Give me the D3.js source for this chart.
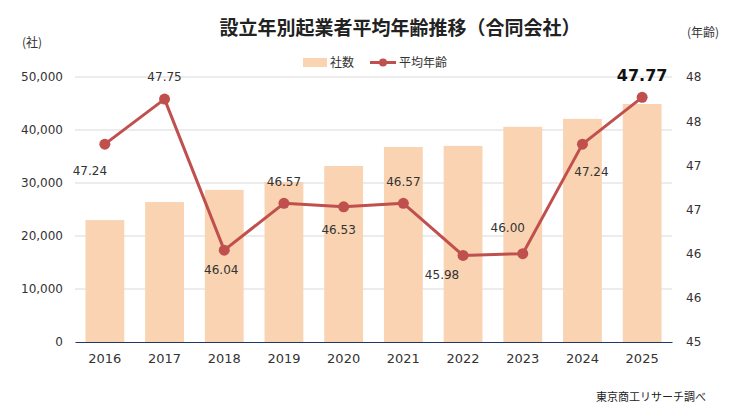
<!DOCTYPE html>
<html><head><meta charset="utf-8">
<script src="https://cdn.jsdelivr.net/npm/d3@7"></script>
<style>
body{margin:0;background:#fff;}
text{font-family:"DejaVu Sans","Noto Sans CJK JP",sans-serif;}
.jp{font-family:"Noto Sans CJK JP",sans-serif;}
</style></head><body>
<svg id="c" width="749" height="410"></svg>
<script>
const years = ["2016","2017","2018","2019","2020","2021","2022","2023","2024","2025"];
const companies = [23000, 26400, 28700, 30200, 33200, 36800, 37000, 40600, 42100, 44900];
const avgAge = [47.24, 47.75, 46.04, 46.57, 46.53, 46.57, 45.98, 46.00, 47.24, 47.77];
const leftTicks = [0, 10000, 20000, 30000, 40000, 50000];
const rightTicks = [45, 45.5, 46, 46.5, 47, 47.5, 48];
// label offsets relative to points [dx, dy]
const labelOffsets = [[-15,27],[0,-22],[-3,20],[0,-22],[-5,23],[0,-22],[-21,19],[-15,-26],[9,28],[0,-22]];

const svg = d3.select("#c");
const m = {l:75, r:672, t:77, b:342};
const x = d3.scaleBand().domain(years).range([m.l, m.r]).paddingInner(0.35).paddingOuter(0.175);
const xc = d => x(d) + x.bandwidth()/2;
const yL = d3.scaleLinear().domain([0, 50000]).range([m.b, m.t]);
const yR = d3.scaleLinear().domain([45, 48]).range([m.b, m.t]);

// title
svg.append("text").attr("class","jp").attr("x", 400).attr("y", 35).attr("text-anchor","middle")
  .attr("font-size", 19).attr("font-weight","bold").attr("fill","#222").text("設立年別起業者平均年齢推移（合同会社）");
svg.append("text").attr("class","jp").attr("x", 32).attr("y", 47).attr("text-anchor","middle")
  .attr("font-size", 12).attr("fill","#333").text("(社)");
svg.append("text").attr("class","jp").attr("x", 703).attr("y", 37).attr("text-anchor","middle")
  .attr("font-size", 12).attr("fill","#333").text("(年齢)");

// legend
const lg = svg.append("g");
lg.append("rect").attr("x", 303).attr("y", 58).attr("width", 24).attr("height", 9).attr("fill", "#F9D3B2");
lg.append("text").attr("class","jp").attr("x", 330).attr("y", 67).attr("font-size", 12).attr("fill","#333").text("社数");
lg.append("line").attr("x1", 370).attr("x2", 396).attr("y1", 62.5).attr("y2", 62.5).attr("stroke", "#C0504D").attr("stroke-width", 3);
lg.append("circle").attr("cx", 383).attr("cy", 62.5).attr("r", 4).attr("fill", "#C0504D");
lg.append("text").attr("class","jp").attr("x", 399).attr("y", 67).attr("font-size", 12).attr("fill","#333").text("平均年齢");

// gridlines
svg.append("g").selectAll("line").data(leftTicks.filter(d=>d>0)).join("line")
  .attr("x1", m.l).attr("x2", m.r).attr("y1", d=>yL(d)).attr("y2", d=>yL(d))
  .attr("stroke", "#D9D9D9").attr("stroke-width", 1);

// left axis
const la = svg.append("g").attr("transform", `translate(${m.l},0)`)
  .call(d3.axisLeft(yL).tickValues(leftTicks).tickFormat(d3.format(",")).tickSize(0).tickPadding(12));
la.select(".domain").remove();
la.selectAll("text").attr("font-size", 12).attr("fill", "#333").attr("font-family","DejaVu Sans");

// right axis
const ra = svg.append("g").attr("transform", `translate(${m.r},0)`)
  .call(d3.axisRight(yR).tickValues(rightTicks).tickFormat(d => Math.round(d + 1e-9).toString()).tickSize(0).tickPadding(14));
ra.select(".domain").remove();
ra.selectAll("text").attr("font-size", 12).attr("fill", "#333").attr("font-family","DejaVu Sans");

// bars
svg.append("g").selectAll("rect").data(years).join("rect")
  .attr("x", d => x(d)).attr("width", x.bandwidth())
  .attr("y", (d,i) => yL(companies[i])).attr("height", (d,i) => yL(0) - yL(companies[i]))
  .attr("fill", "#F9D3B2");

// x axis
const xa = svg.append("g").attr("transform", `translate(0,${m.b})`)
  .call(d3.axisBottom(x).tickSize(0).tickPadding(12));
xa.select(".domain").attr("stroke", "#1F3864").attr("stroke-width", 1.2);
xa.selectAll("text").attr("font-size", 13).attr("fill", "#333").attr("font-family","DejaVu Sans");

// line
const line = d3.line().x((d,i) => xc(years[i])).y(d => yR(d));
svg.append("path").datum(avgAge).attr("d", line).attr("fill","none")
  .attr("stroke", "#C0504D").attr("stroke-width", 3).attr("stroke-linejoin","round");
svg.append("g").selectAll("circle").data(avgAge).join("circle")
  .attr("cx", (d,i) => xc(years[i])).attr("cy", d => yR(d)).attr("r", 5.5).attr("fill", "#C0504D");

// labels
svg.append("g").selectAll("text").data(avgAge).join("text")
  .attr("x", (d,i) => xc(years[i]) + labelOffsets[i][0])
  .attr("y", (d,i) => yR(d) + labelOffsets[i][1])
  .attr("dy", "0.35em").attr("text-anchor","middle")
  .attr("font-size", (d,i) => i === avgAge.length-1 ? 16 : 12)
  .attr("font-weight", (d,i) => i === avgAge.length-1 ? "bold" : "normal")
  .attr("fill", (d,i) => i === avgAge.length-1 ? "#111" : "#333")
  .text(d => d.toFixed(2));

// source
svg.append("text").attr("class","jp").attr("x", 706).attr("y", 401).attr("text-anchor","end")
  .attr("font-size", 11).attr("fill","#222").text("東京商工リサーチ調べ");
</script>
</body></html>
